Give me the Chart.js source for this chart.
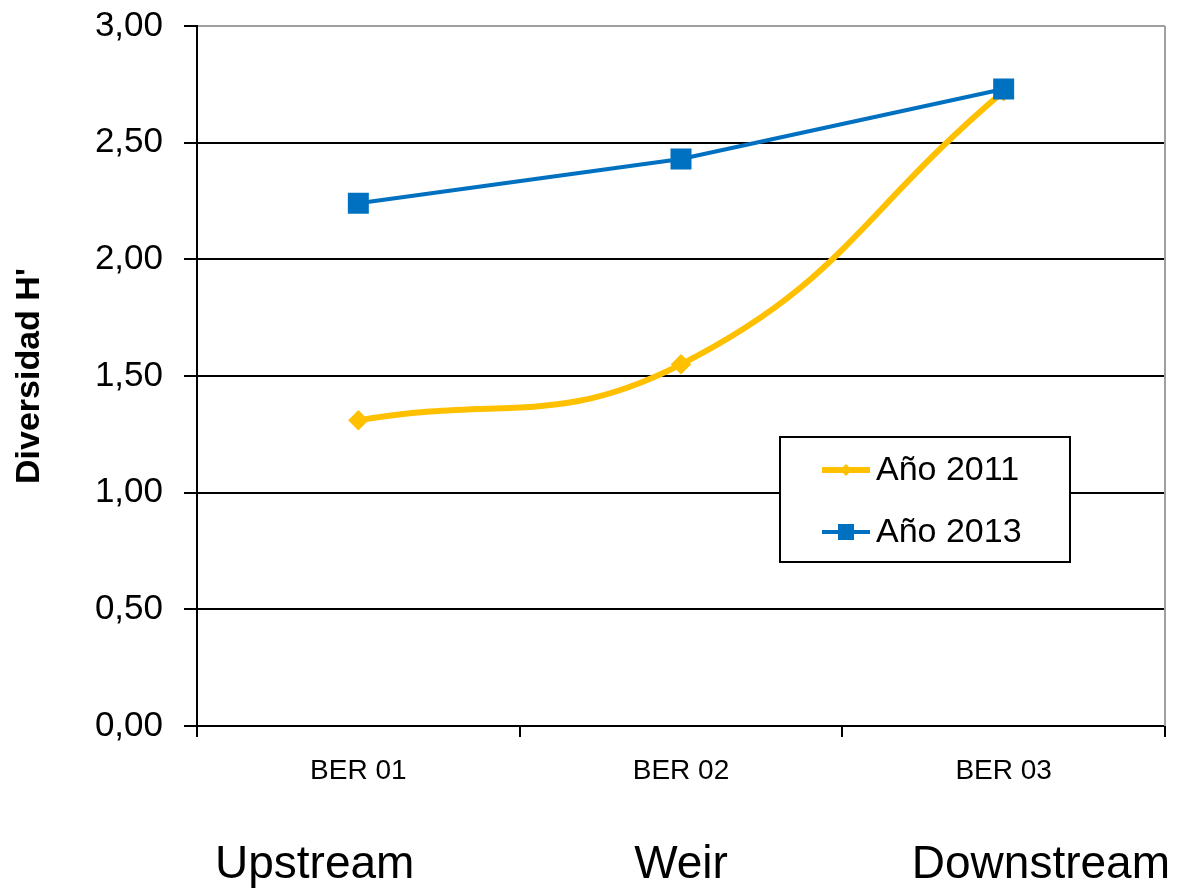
<!DOCTYPE html>
<html>
<head>
<meta charset="utf-8">
<script src="https://cdn.jsdelivr.net/npm/chart.js@4"></script>
<style>
  body { margin: 0; background: #fff; }
  #wrap { width: 1191px; height: 888px; position: relative; }
</style>
</head>
<body>
<div id="wrap"><canvas id="chart"></canvas></div>
<script>
// Chart data
const categories = ['BER 01', 'BER 02', 'BER 03'];
const siteLabels = ['Upstream', 'Weir', 'Downstream'];
const seriesNames = ['Año 2011', 'Año 2013'];
const values2011 = [1.31, 1.55, 2.72];
const values2013 = [2.24, 2.43, 2.73];
const yTicks = [0, 0.5, 1, 1.5, 2, 2.5, 3];

const FONT = "'Liberation Sans', Arial, sans-serif";
const ORANGE = '#FFC000';
const BLUE = '#0070C0';

// Draw a small marker (used by the legend box)
function drawMarker(ctx, style, x, y, r, color) {
  ctx.fillStyle = color;
  ctx.beginPath();
  if (style === 'rect') {
    ctx.rect(x - r, y - r, 2 * r, 2 * r);
  } else {
    ctx.moveTo(x, y - r);
    ctx.lineTo(x + r, y);
    ctx.lineTo(x, y + r);
    ctx.lineTo(x - r, y);
    ctx.closePath();
  }
  ctx.fill();
}

// Legend box inside the plot + site names under the axis + right border
const extras = {
  id: 'extras',
  afterDraw(chart) {
    const ctx = chart.ctx;
    const area = chart.chartArea;
    const xScale = chart.scales.x;
    ctx.save();

    // right border of plot area
    ctx.strokeStyle = '#a0a0a0';
    ctx.lineWidth = 2;
    ctx.beginPath();
    ctx.moveTo(area.right, area.top);
    ctx.lineTo(area.right, area.bottom);
    ctx.stroke();

    // legend box
    const bx = 780, by = 437, bw = 290, bh = 125;
    ctx.fillStyle = '#fff';
    ctx.fillRect(bx, by, bw, bh);
    ctx.strokeStyle = '#000';
    ctx.lineWidth = 2;
    ctx.strokeRect(bx, by, bw, bh);

    chart.data.datasets.forEach((ds, i) => {
      const y = by + 33 + i * 62;
      ctx.strokeStyle = ds.borderColor;
      ctx.lineWidth = ds.borderWidth;
      ctx.beginPath();
      ctx.moveTo(822, y);
      ctx.lineTo(870, y);
      ctx.stroke();
      drawMarker(ctx, ds.pointStyle, 846, y, ds.pointStyle === 'rect' ? 8 : 6, ds.borderColor);
      ctx.fillStyle = '#000';
      ctx.font = '34px ' + FONT;
      ctx.textAlign = 'left';
      ctx.textBaseline = 'middle';
      ctx.fillText(ds.label, 876, y + 1);
    });

    // site names below the category labels
    ctx.fillStyle = '#000';
    ctx.font = '46px ' + FONT;
    ctx.textBaseline = 'alphabetic';
    siteLabels.forEach((name, i) => {
      let x = xScale.getPixelForValue(i);
      if (i === 0) { ctx.textAlign = 'left'; x = area.left + 18; }
      else if (i === siteLabels.length - 1) { ctx.textAlign = 'right'; x = area.right + 5; }
      else { ctx.textAlign = 'center'; }
      ctx.fillText(name, x, 878);
    });

    ctx.restore();
  }
};

new Chart(document.getElementById('chart'), {
  type: 'line',
  data: {
    labels: categories,
    datasets: [
      {
        label: seriesNames[0],
        data: values2011,
        borderColor: ORANGE,
        backgroundColor: ORANGE,
        borderWidth: 6,
        tension: 0.45,
        pointStyle: 'rectRot',
        pointRadius: 6,
        pointHoverRadius: 6,
        order: 1
      },
      {
        label: seriesNames[1],
        data: values2013,
        borderColor: BLUE,
        backgroundColor: BLUE,
        borderWidth: 4,
        tension: 0,
        pointStyle: 'rect',
        pointRadius: 12,
        pointHoverRadius: 12,
        order: 0
      }
    ]
  },
  options: {
    responsive: true,
    maintainAspectRatio: false,
    animation: false,
    layout: { padding: { top: 26, right: 26, left: 0, bottom: 0 } },
    plugins: {
      legend: { display: false },
      tooltip: { enabled: false }
    },
    scales: {
      x: {
        offset: true,
        afterFit: (scale) => { scale.height = 162; scale.paddingLeft = 0; scale.paddingRight = 0; },
        grid: {
          offset: true,
          drawOnChartArea: false,
          drawTicks: true,
          tickLength: 11,
          color: '#000',
          lineWidth: 2
        },
        border: { color: '#000', width: 2 },
        ticks: {
          color: '#000',
          padding: 17,
          font: { family: FONT, size: 28 }
        }
      },
      y: {
        min: 0,
        max: 3,
        afterFit: (scale) => { scale.width = 197; scale.paddingTop = 0; scale.paddingBottom = 0; },
        afterBuildTicks: (scale) => { scale.ticks = yTicks.map(v => ({ value: v })); },
        grid: {
          color: (c) => (c.tick && c.tick.value === 3 ? '#a0a0a0' : '#000'),
          tickColor: '#000',
          lineWidth: 2,
          tickLength: 13
        },
        border: { color: '#000', width: 2 },
        ticks: {
          color: '#000',
          padding: 21,
          font: { family: FONT, size: 35 },
          callback: (v) => v.toFixed(2).replace('.', ',')
        },
        title: {
          display: true,
          text: "Diversidad H'",
          color: '#000',
          padding: { top: 9, bottom: 0 },
          font: { family: FONT, size: 34, weight: 'bold' }
        }
      }
    }
  },
  plugins: [extras]
});
</script>
</body>
</html>
